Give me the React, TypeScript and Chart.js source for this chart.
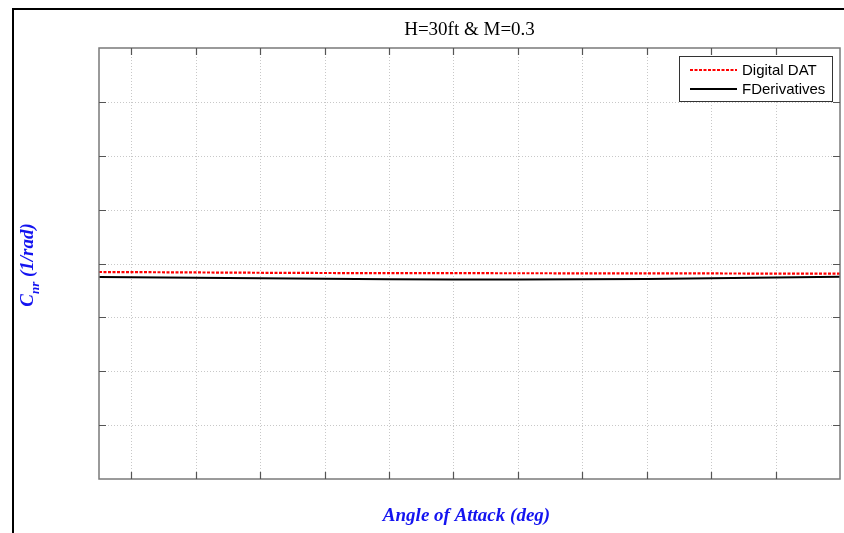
import React, { useEffect, useRef } from "react";
import { Chart, registerables } from "chart.js";

Chart.register(...registerables);

const titleText = "H=30ft & M=0.3";
const xTitle = "Angle of Attack (deg)";
const yTitleMain = "C";
const yTitleSub = "nr";
const yTitleRest = " (1/rad)";
const seriesNames = ["Digital DAT", "FDerivatives"];

const alpha = [-1, 0, 2, 4, 6, 8, 10, 12, 14, 16, 18, 20, 22];
const digitalDat = [-0.0395, -0.040, -0.0415, -0.043, -0.0441, -0.0447, -0.045, -0.0452, -0.0455, -0.0458, -0.0462, -0.0468, -0.0474];
const fDerivatives = [-0.0627, -0.064, -0.0662, -0.0684, -0.071, -0.0734, -0.0743, -0.0743, -0.0735, -0.0715, -0.0685, -0.065, -0.0613];

const xTicks = [-1, 0, 2, 4, 6, 8, 10, 12, 14, 16, 18, 20, 22];
const yTicks = [-1, -0.75, -0.5, -0.25, 0, 0.25, 0.5, 0.75, 1];

const BLUE = "#1414f0";

const decorPlugin = {
  id: "decor",
  beforeDatasetsDraw(chart: any) {
    const { ctx, chartArea: a, scales } = chart;
    ctx.save();
    ctx.strokeStyle = "#c8c8c8";
    ctx.lineWidth = 1;
    ctx.setLineDash([1, 2]);
    for (const v of xTicks) {
      const x = Math.round(scales.x.getPixelForValue(v)) + 0.5;
      if (x <= a.left + 1 || x >= a.right - 1) continue;
      ctx.beginPath();
      ctx.moveTo(x, a.top);
      ctx.lineTo(x, a.bottom);
      ctx.stroke();
    }
    for (const v of yTicks) {
      const y = Math.round(scales.y.getPixelForValue(v)) + 0.5;
      if (y <= a.top + 1 || y >= a.bottom - 1) continue;
      ctx.beginPath();
      ctx.moveTo(a.left, y);
      ctx.lineTo(a.right, y);
      ctx.stroke();
    }
    ctx.restore();
  },
  afterDatasetsDraw(chart: any) {
    const { ctx, chartArea: a, scales, width, height } = chart;
    ctx.save();
    ctx.setLineDash([]);
    ctx.strokeStyle = "#7a7a7a";
    ctx.lineWidth = 1.5;
    ctx.strokeRect(a.left, a.top, a.right - a.left, a.bottom - a.top);
    ctx.lineWidth = 1.2;
    ctx.strokeStyle = "#555";
    for (const v of xTicks) {
      const x = Math.round(scales.x.getPixelForValue(v)) + 0.5;
      if (x <= a.left + 1 || x >= a.right - 1) continue;
      ctx.beginPath();
      ctx.moveTo(x, a.top);
      ctx.lineTo(x, a.top + 7);
      ctx.moveTo(x, a.bottom);
      ctx.lineTo(x, a.bottom - 7);
      ctx.stroke();
    }
    for (const v of yTicks) {
      const y = Math.round(scales.y.getPixelForValue(v)) + 0.5;
      if (y <= a.top + 1 || y >= a.bottom - 1) continue;
      ctx.beginPath();
      ctx.moveTo(a.left, y);
      ctx.lineTo(a.left + 7, y);
      ctx.moveTo(a.right, y);
      ctx.lineTo(a.right - 7, y);
      ctx.stroke();
    }
    ctx.strokeStyle = "#000";
    ctx.lineWidth = 2;
    ctx.beginPath();
    ctx.moveTo(13, height);
    ctx.lineTo(13, 9);
    ctx.lineTo(width, 9);
    ctx.stroke();

    const cx = (a.left + a.right) / 2;
    ctx.fillStyle = "#000";
    ctx.font = "19px 'Liberation Serif', serif";
    ctx.textAlign = "center";
    ctx.textBaseline = "alphabetic";
    ctx.fillText(titleText, cx, 35);

    ctx.fillStyle = BLUE;
    ctx.font = "italic bold 19px 'Liberation Serif', serif";
    ctx.fillText(xTitle, cx - 3, 521);

    ctx.save();
    ctx.translate(26, 265);
    ctx.rotate(-Math.PI / 2);
    ctx.textAlign = "left";
    const big = "italic bold 19px 'Liberation Serif', serif";
    const small = "italic bold 13px 'Liberation Serif', serif";
    ctx.font = big;
    const w1 = ctx.measureText(yTitleMain).width;
    const w3 = ctx.measureText(yTitleRest).width;
    ctx.font = small;
    const w2 = ctx.measureText(yTitleSub).width;
    let sx = -(w1 + w2 + w3) / 2;
    ctx.font = big;
    ctx.fillText(yTitleMain, sx, 7);
    sx += w1;
    ctx.font = small;
    ctx.fillText(yTitleSub, sx, 13);
    sx += w2;
    ctx.font = big;
    ctx.fillText(yTitleRest, sx, 7);
    ctx.restore();

    const lx = 679, ly = 56, lw = 153, lh = 45;
    ctx.fillStyle = "#fff";
    ctx.fillRect(lx, ly, lw, lh);
    ctx.strokeStyle = "#333";
    ctx.lineWidth = 1;
    ctx.strokeRect(lx + 0.5, ly + 0.5, lw, lh);
    ctx.font = "15px 'Liberation Sans', Arial, sans-serif";
    ctx.textAlign = "left";
    ctx.textBaseline = "middle";
    const rows = [
      { name: seriesNames[0], color: "#ff0000", dash: [3, 1.5] },
      { name: seriesNames[1], color: "#000", dash: [] as number[] },
    ];
    rows.forEach((r, i) => {
      const y = 70 + i * 19;
      ctx.strokeStyle = r.color;
      ctx.lineWidth = 2;
      ctx.setLineDash(r.dash);
      ctx.beginPath();
      ctx.moveTo(690, y);
      ctx.lineTo(737, y);
      ctx.stroke();
      ctx.setLineDash([]);
      ctx.fillStyle = "#000";
      ctx.fillText(r.name, 742, y + 1);
    });
    ctx.restore();
  },
};

export default function App() {
  const ref = useRef<HTMLCanvasElement | null>(null);
  useEffect(() => {
    document.body.style.margin = "0";
    const canvas = ref.current!;
    const chart = new Chart(canvas, {
      type: "line",
      data: {
        datasets: [
          {
            label: seriesNames[0],
            data: alpha.map((x, i) => ({ x, y: digitalDat[i] })),
            borderColor: "#ff0000",
            borderWidth: 2.2,
            borderDash: [3, 1.5],
            pointRadius: 0,
            tension: 0,
          },
          {
            label: seriesNames[1],
            data: alpha.map((x, i) => ({ x, y: fDerivatives[i] })),
            borderColor: "#000",
            borderWidth: 2,
            pointRadius: 0,
            tension: 0,
          },
        ],
      },
      options: {
        animation: false,
        responsive: false,
        devicePixelRatio: 1,
        layout: { padding: { left: 99, top: 48, right: 4, bottom: 54 } },
        plugins: { legend: { display: false }, title: { display: false }, tooltip: { enabled: false } },
        scales: {
          x: {
            type: "linear",
            min: -1,
            max: 22,
            afterBuildTicks: (s: any) => { s.ticks = xTicks.map((v) => ({ value: v })); },
            ticks: { display: false, padding: 0 },
            grid: { display: false, drawTicks: false, tickLength: 0 },
            border: { display: false },
          },
          y: {
            type: "linear",
            min: -1,
            max: 1,
            afterBuildTicks: (s: any) => { s.ticks = yTicks.map((v) => ({ value: v })); },
            ticks: { display: false, padding: 0 },
            grid: { display: false, drawTicks: false, tickLength: 0 },
            border: { display: false },
          },
        },
      },
      plugins: [decorPlugin],
    } as any);
    return () => chart.destroy();
  }, []);
  return (
    <canvas
      ref={ref}
      width={844}
      height={533}
      style={{ position: "fixed", left: 0, top: 0, width: 844, height: 533, background: "#fff" }}
    />
  );
}
